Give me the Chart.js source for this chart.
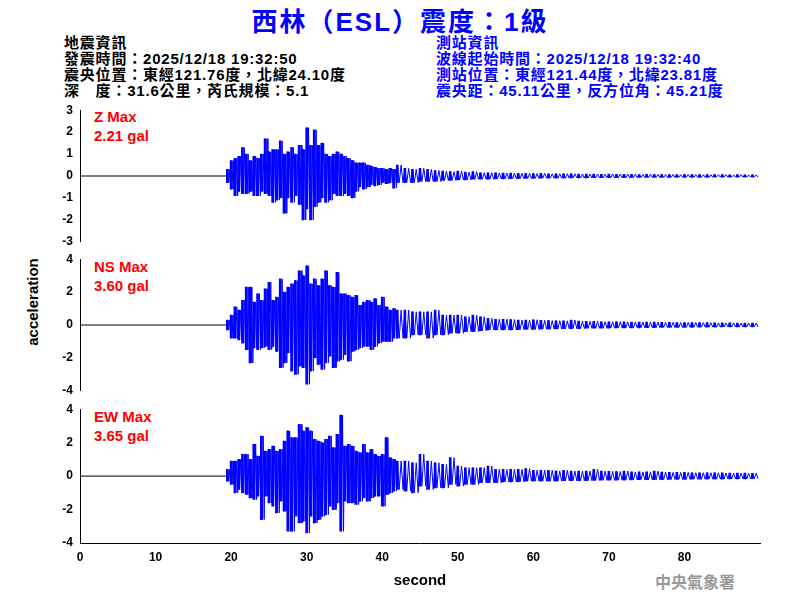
<!DOCTYPE html>
<html><head><meta charset="utf-8">
<script src="https://cdn.jsdelivr.net/npm/chart.js@4"></script>
<style>
body{margin:0;width:800px;height:600px;background:#fff;position:relative;overflow:hidden;font-family:"Liberation Sans",Arial,sans-serif}
canvas{position:absolute;left:0}
.t{position:absolute;white-space:nowrap}
.info{font-family:"Liberation Sans","Noto Sans CJK TC";font-size:15px;line-height:16px;font-weight:bold;letter-spacing:0.8px}
.lab{color:#f00;font-weight:bold;font-size:15px;line-height:19px}
</style></head><body>
<div class="t" style="left:0;width:800px;text-align:center;top:1px;color:#00f;font-size:26px;font-weight:bold;letter-spacing:2px;font-family:'Liberation Sans','Noto Sans CJK TC'">西林（ESL）震度：1級</div>
<div class="t info" style="left:64px;top:35px;color:#000">地震資訊<br>發震時間：2025/12/18 19:32:50<br>震央位置：東經121.76度，北緯24.10度<br>深　度：31.6公里，芮氏規模：5.1</div>
<div class="t info" style="left:436px;top:35px;color:#00f">測站資訊<br>波線起始時間：2025/12/18 19:32:40<br>測站位置：東經121.44度，北緯23.81度<br>震央距：45.11公里，反方位角：45.21度</div>
<div class="t lab" style="left:94px;top:107px">Z Max<br>2.21 gal</div>
<div class="t lab" style="left:94px;top:257px">NS Max<br>3.60 gal</div>
<div class="t lab" style="left:94px;top:407px">EW Max<br>3.65 gal</div>
<div class="t" style="left:32px;top:302px;transform:translate(-50%,-50%) rotate(-90deg);font-size:15px;font-weight:bold">acceleration</div>
<div class="t" style="left:655px;top:569px;color:#999;font-size:16px;font-weight:bold;font-family:'Noto Sans CJK TC'">中央氣象署</div>
<canvas id="c1" width="800" height="150" style="top:101px"></canvas>
<canvas id="c2" width="800" height="150" style="top:250px"></canvas>
<canvas id="c3" width="800" height="200" style="top:400px"></canvas>
<script>
const binTimes=[19.5,20,20.5,21,21.5,22,22.5,23,23.5,24,24.5,25,25.5,26,26.5,27,27.5,28,28.5,29,29.5,30,30.5,31,31.5,32,32.5,33,33.5,34,34.5,35,35.5,36,36.5,37,37.5,38,38.5,39,39.5,40,40.5,41,41.5,
42,43,44,45,46,47,48,49,50,51,52,53,54,55,56,57,58,59,60,61,62,63,64,65,66,67,68,69,70,71,72,73,74,75,76,77,78,79,80,81,82,83,84,85,86,87,88,89];
const zHi=[0.3,0.7,0.8,0.9,1.3,1.0,0.7,0.9,0.8,1.0,1.7,1.1,1.2,1.2,1.6,1.0,1.1,1.3,1.0,1.4,1.2,2.2,1.4,2.1,1.4,1.5,1.0,0.9,1.0,1.1,1.0,0.9,0.8,0.7,0.6,0.6,0.6,0.5,0.45,0.4,0.35,0.35,0.3,0.35,0.3,
0.5,0.35,0.3,0.35,0.3,0.25,0.22,0.2,0.22,0.18,0.2,0.15,0.15,0.14,0.13,0.13,0.12,0.12,0.11,0.12,0.1,0.1,0.1,0.1,0.09,0.09,0.09,0.08,0.09,0.08,0.08,0.08,0.07,0.08,0.07,0.07,0.07,0.06,0.07,0.06,0.06,0.06,0.06,0.06,0.05,0.06,0.05,0.05];
const zLo=[-0.3,-0.6,-0.9,-0.7,-0.8,-0.8,-0.7,-0.9,-0.9,-0.7,-0.8,-0.9,-1.2,-1.1,-1.0,-1.7,-1.0,-1.2,-0.9,-1.3,-2.0,-1.5,-2.0,-1.4,-1.2,-1.0,-1.2,-1.1,-0.8,-0.9,-0.9,-0.8,-0.9,-1.0,-0.7,-0.5,-0.6,-0.5,-0.4,-0.45,-0.4,-0.3,-0.35,-0.3,-0.55,
-0.3,-0.3,-0.3,-0.25,-0.25,-0.25,-0.2,-0.2,-0.18,-0.18,-0.15,-0.15,-0.15,-0.13,-0.13,-0.12,-0.12,-0.11,-0.11,-0.1,-0.1,-0.1,-0.1,-0.09,-0.09,-0.09,-0.08,-0.08,-0.08,-0.08,-0.08,-0.07,-0.07,-0.07,-0.07,-0.07,-0.06,-0.06,-0.06,-0.06,-0.06,-0.06,-0.05,-0.05,-0.05,-0.05,-0.05,-0.05];
const nsHi=[0.3,0.6,1.1,0.9,1.5,2.3,2.3,1.4,1.9,1.5,2.2,2.6,1.5,1.7,2.8,2.0,2.3,2.5,2.7,3.3,3.0,3.6,2.5,2.8,2.4,2.8,3.3,2.4,2.3,3.2,1.9,1.9,1.8,1.7,1.8,1.2,1.4,1.5,1.4,1.6,1.2,1.7,1.1,0.9,1.0,
0.9,0.9,0.8,0.8,0.8,0.9,0.6,0.6,0.6,0.5,0.6,0.5,0.4,0.35,0.35,0.33,0.3,0.3,0.32,0.28,0.27,0.26,0.25,0.3,0.24,0.22,0.22,0.2,0.2,0.2,0.19,0.18,0.18,0.17,0.17,0.16,0.16,0.15,0.15,0.15,0.14,0.14,0.13,0.13,0.13,0.12,0.12,0.12];
const nsLo=[-0.3,-0.8,-0.8,-0.9,-1.1,-1.5,-2.3,-1.4,-1.5,-1.4,-1.3,-1.5,-1.3,-1.6,-2.6,-2.3,-1.7,-2.8,-3.0,-2.5,-2.6,-3.6,-2.8,-2.0,-2.4,-2.7,-2.3,-1.9,-2.6,-2.2,-2.1,-1.8,-2.2,-1.6,-1.5,-1.4,-1.3,-1.3,-1.5,-1.3,-1.1,-1.0,-1.0,-1.0,-0.8,
-0.8,-0.8,-0.6,-0.6,-0.8,-0.6,-0.6,-0.5,-0.5,-0.4,-0.4,-0.35,-0.3,-0.3,-0.3,-0.3,-0.28,-0.27,-0.27,-0.25,-0.25,-0.24,-0.23,-0.22,-0.22,-0.2,-0.2,-0.2,-0.19,-0.18,-0.18,-0.17,-0.17,-0.16,-0.16,-0.15,-0.15,-0.15,-0.14,-0.14,-0.13,-0.13,-0.13,-0.12,-0.12,-0.12,-0.11,-0.11];
const ewHi=[0.4,0.9,0.9,1.0,1.3,1.3,1.0,1.9,1.2,2.4,1.5,1.6,1.8,1.5,1.6,2.1,2.7,2.3,2.3,3.1,2.7,2.9,2.7,2.2,2.1,2.0,2.2,2.4,1.7,2.5,3.65,1.8,1.9,1.8,1.5,1.4,1.9,1.4,1.6,1.3,1.2,1.3,2.3,1.1,1.0,
0.9,0.9,0.8,1.3,0.9,0.8,0.7,1.1,0.6,0.5,0.5,0.5,0.6,0.4,0.4,0.4,0.4,0.45,0.35,0.35,0.35,0.3,0.35,0.3,0.3,0.3,0.4,0.3,0.28,0.27,0.3,0.25,0.25,0.25,0.3,0.24,0.22,0.22,0.22,0.2,0.2,0.2,0.2,0.19,0.18,0.18,0.18,0.17];
const ewLo=[-0.3,-0.5,-1.0,-0.8,-1.0,-1.1,-1.3,-1.4,-1.2,-2.6,-1.2,-1.6,-1.8,-2.2,-1.5,-2.1,-3.3,-3.3,-2.4,-2.8,-2.7,-3.4,-2.4,-2.8,-2.6,-2.4,-2.3,-1.8,-2.0,-1.6,-3.3,-1.5,-1.6,-1.6,-1.7,-1.5,-1.3,-1.5,-1.3,-1.2,-1.2,-1.8,-1.1,-1.0,-0.9,
-0.8,-0.9,-1.0,-0.6,-0.8,-0.7,-0.7,-0.5,-0.6,-0.5,-0.5,-0.4,-0.4,-0.4,-0.35,-0.35,-0.35,-0.3,-0.3,-0.3,-0.3,-0.3,-0.28,-0.28,-0.27,-0.27,-0.26,-0.25,-0.25,-0.24,-0.24,-0.23,-0.22,-0.22,-0.22,-0.21,-0.2,-0.2,-0.2,-0.19,-0.19,-0.18,-0.18,-0.18,-0.17,-0.17,-0.17,-0.16];
const xTicks=[0,10,20,30,40,50,60,70,80];
const quietEnd=19.5;

function trace(hi,lo){
  const pts=[];
  for(let i=0;i<binTimes.length;i++){
    const next=i+1<binTimes.length?binTimes[i+1]:90;
    const q=(next-binTimes[i])/4;
    pts.push({x:binTimes[i],y:hi[i]});
    pts.push({x:binTimes[i]+q,y:lo[i]});
    pts.push({x:binTimes[i]+2*q,y:hi[i]});
    pts.push({x:binTimes[i]+3*q,y:lo[i]});
  }
  return pts;
}
function bars(hi,lo){return binTimes.map((t,i)=>({x:t,y:[lo[i],hi[i]]}));}
const font={family:"Liberation Sans",size:12,weight:'bold'};
function make(id,hi,lo,lim,step,showX,pad){
  return new Chart(document.getElementById(id),{
    type:'line',
    data:{datasets:[
      {data:[{x:0,y:0},{x:quietEnd,y:0}],borderColor:'#000',borderWidth:1,pointRadius:0},
      {type:'bar',data:bars(hi,lo),backgroundColor:'#00f',barThickness:2,grouped:false},
      {data:trace(hi,lo),borderColor:'#00f',borderWidth:1,pointRadius:0,tension:0}
    ]},
    options:{responsive:false,animation:false,
      layout:{padding:{left:0,right:40,top:pad[0],bottom:pad[1]}},
      plugins:{legend:{display:false},tooltip:{enabled:false}},
      scales:{
        x:{type:'linear',min:0,max:90,display:showX,offset:false,
          grid:{display:false,drawTicks:true,tickColor:'#000',tickLength:5,offset:false},
          border:{color:'#000'},
          afterBuildTicks:s=>{s.ticks=xTicks.map(v=>({value:v}));},
          afterFit:s=>{if(showX)s.height=47;},
          ticks:{color:'#000',font:font,maxRotation:0,padding:2},
          title:{display:showX,text:'second',color:'#000',font:{family:"Liberation Sans",size:15,weight:'bold'},padding:0}},
        y:{min:-lim,max:lim,
          grid:{display:false,drawTicks:true,tickColor:'#000',tickLength:5},
          border:{color:'#000'},
          afterFit:s=>{s.width=80;},
          ticks:{stepSize:step,color:'#000',font:font,padding:2}}
      }}
  });
}
make('c1',zHi,zLo,3,1,false,[3,7]);
make('c2',nsHi,nsLo,4,2,false,[8,8]);
make('c3',ewHi,ewLo,4,2,true,[8,10]);
</script></body></html>
